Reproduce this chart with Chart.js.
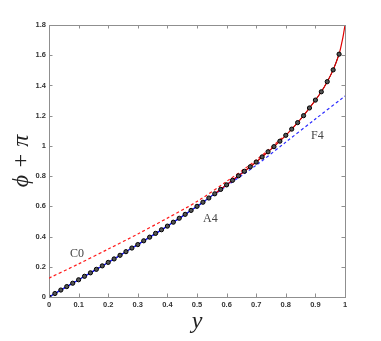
<!DOCTYPE html>
<html>
<head>
<meta charset="utf-8">
<script src="https://cdn.jsdelivr.net/npm/chart.js@4"></script>
<style>
  body { margin: 0; background: #fff; }
  canvas { display: block; }
</style>
</head>
<body>
<canvas id="chart" width="381" height="341"></canvas>
<script>
// sample positions along y (markers every 0.02)
const yMarkers = [0, 0.02, 0.04, 0.06, 0.08, 0.1, 0.12, 0.14, 0.16, 0.18,
    0.2, 0.22, 0.24, 0.26, 0.28, 0.3, 0.32, 0.34, 0.36, 0.38,
    0.4, 0.42, 0.44, 0.46, 0.48, 0.5, 0.52, 0.54, 0.56, 0.58,
    0.6, 0.62, 0.64, 0.66, 0.68, 0.7, 0.72, 0.74, 0.76, 0.78,
    0.8, 0.82, 0.84, 0.86, 0.88, 0.9, 0.92, 0.94, 0.96, 0.98];
const phiA4 = [0, 0.023, 0.046, 0.069, 0.091, 0.114, 0.137, 0.16, 0.183, 0.206,
    0.229, 0.252, 0.276, 0.3, 0.324, 0.347, 0.372, 0.396, 0.421, 0.445,
    0.469, 0.495, 0.521, 0.547, 0.573, 0.6, 0.627, 0.655, 0.683, 0.712,
    0.742, 0.772, 0.802, 0.832, 0.862, 0.893, 0.927, 0.961, 0.995, 1.031,
    1.07, 1.111, 1.154, 1.2, 1.251, 1.303, 1.358, 1.425, 1.503, 1.607];

// exact curve (red), upper part, running into the corner
const yExact = [0.56, 0.6, 0.64, 0.68, 0.72, 0.76, 0.8, 0.84, 0.88, 0.9, 0.92, 0.94, 0.96, 0.98, 0.99, 0.995, 1];
const phiExact = [0.683, 0.742, 0.802, 0.862, 0.927, 0.995, 1.07, 1.154, 1.251, 1.303, 1.358, 1.425, 1.503, 1.607, 1.69, 1.74, 1.8];

// blue solid, lower part
const yLow = [0, 0.1, 0.2, 0.3, 0.4, 0.5, 0.6, 0.66];
const phiLow = [0, 0.114, 0.229, 0.347, 0.469, 0.6, 0.742, 0.832];

// C0 (red dashed)
const yC0 = [0, 0.1, 0.2, 0.3, 0.4, 0.5, 0.6, 0.7, 0.8];
const phiC0 = [0.125, 0.219, 0.317, 0.417, 0.522, 0.632, 0.765, 0.906, 1.075];

// F4 (blue dashed)
const yF4 = [0, 0.1, 0.2, 0.3, 0.4, 0.5, 0.6, 0.7, 0.8, 0.9, 1];
const phiF4 = [0, 0.114, 0.229, 0.347, 0.469, 0.598, 0.735, 0.872, 1.025, 1.178, 1.33];

const xTicks = [0, 0.1, 0.2, 0.3, 0.4, 0.5, 0.6, 0.7, 0.8, 0.9, 1];
const yTicks = [0, 0.2, 0.4, 0.6, 0.8, 1, 1.2, 1.4, 1.6, 1.8];

const labels = [
    { text: "C0", x: 70, y: 257 },
    { text: "A4", x: 203, y: 222 },
    { text: "F4", x: 311, y: 139 }
];

const toPoints = (xs, ys) => xs.map((x, i) => ({ x, y: ys[i] }));
const fmt = v => String(+Number(v).toFixed(2));

const AXIS = "#8f8f8f";

const innerTicks = {
    id: "innerTicks",
    afterDraw(chart) {
        const { ctx, chartArea: a, scales } = chart;
        const len = 3.5;
        ctx.save();
        ctx.strokeStyle = AXIS;
        ctx.lineWidth = 1;
        ctx.beginPath();
        xTicks.forEach(v => {
            const px = Math.round(scales.x.getPixelForValue(v)) + 0.5;
            ctx.moveTo(px, a.bottom); ctx.lineTo(px, a.bottom - len);
            ctx.moveTo(px, a.top); ctx.lineTo(px, a.top + len);
        });
        yTicks.forEach(v => {
            const py = Math.round(scales.y.getPixelForValue(v)) + 0.5;
            ctx.moveTo(a.left, py); ctx.lineTo(a.left + len, py);
            ctx.moveTo(a.right, py); ctx.lineTo(a.right - len, py);
        });
        ctx.stroke();

        // annotations
        ctx.fillStyle = "#444";
        ctx.font = "12px 'Liberation Serif', serif";
        ctx.textAlign = "left";
        ctx.textBaseline = "alphabetic";
        labels.forEach(l => ctx.fillText(l.text, l.x, l.y));

        // axis titles
        ctx.fillStyle = "#222";
        ctx.font = "italic 24px 'Liberation Serif', serif";
        ctx.textAlign = "center";
        ctx.fillText("y", (a.left + a.right) / 2, 328);
        ctx.translate(28, (a.top + a.bottom) / 2);
        ctx.rotate(-Math.PI / 2);
        ctx.fillText("\u03D5 + \u03C0", 0, 0);
        ctx.restore();
    }
};

const hidden = { display: false };

new Chart(document.getElementById("chart"), {
    type: "scatter",
    data: {
        datasets: [
            { label: "markers", data: toPoints(yMarkers, phiA4), showLine: false, pointRadius: 2.1,
              pointBackgroundColor: "#555", pointBorderColor: "#000", pointBorderWidth: 1, order: 0 },
            { label: "exact", data: toPoints(yExact, phiExact), showLine: true, pointRadius: 0,
              borderColor: "#e00000", borderWidth: 1.2, tension: 0.3, order: 1 },
            { label: "low", data: toPoints(yLow, phiLow), showLine: true, pointRadius: 0,
              borderColor: "#1a1aff", borderWidth: 1.2, tension: 0.3, order: 2 },
            { label: "A4", data: toPoints(yMarkers, phiA4), showLine: true, pointRadius: 0,
              borderColor: "#000", borderWidth: 1, tension: 0.3, order: 3 },
            { label: "C0", data: toPoints(yC0, phiC0), showLine: true, pointRadius: 0,
              borderColor: "#ff1a1a", borderWidth: 1.2, borderDash: [3, 2.5], tension: 0.3, order: 4 },
            { label: "F4", data: toPoints(yF4, phiF4), showLine: true, pointRadius: 0,
              borderColor: "#2a2aff", borderWidth: 1.2, borderDash: [3, 2.5], tension: 0.3, order: 5 }
        ]
    },
    options: {
        responsive: false,
        animation: false,
        events: [],
        layout: { padding: 0 },
        plugins: { legend: hidden, tooltip: { enabled: false } },
        scales: {
            x: {
                type: "linear", position: "bottom", min: 0, max: 1,
                afterBuildTicks: s => { s.ticks = xTicks.map(v => ({ value: v })); },
                afterFit: s => { s.height = 44; },
                grid: { display: false, drawTicks: false },
                border: { display: true, color: AXIS },
                ticks: { padding: 3, color: "#333", maxRotation: 0, callback: fmt,
                         font: { family: "'Liberation Sans', Arial", size: 7.5, weight: "bold" } }
            },
            xTop: {
                type: "linear", position: "top", min: 0, max: 1,
                afterFit: s => { s.height = 25; },
                grid: { display: false, drawTicks: false },
                border: { display: true, color: AXIS },
                ticks: hidden
            },
            y: {
                type: "linear", position: "left", min: 0, max: 1.8,
                afterBuildTicks: s => { s.ticks = yTicks.map(v => ({ value: v })); },
                afterFit: s => { s.width = 49; },
                grid: { display: false, drawTicks: false },
                border: { display: true, color: AXIS },
                ticks: { padding: 3, color: "#333", callback: fmt,
                         font: { family: "'Liberation Sans', Arial", size: 7.5, weight: "bold" } }
            },
            yRight: {
                type: "linear", position: "right", min: 0, max: 1.8,
                afterFit: s => { s.width = 36; },
                grid: { display: false, drawTicks: false },
                border: { display: true, color: AXIS },
                ticks: hidden
            }
        }
    },
    plugins: [innerTicks]
});
</script>
</body>
</html>
